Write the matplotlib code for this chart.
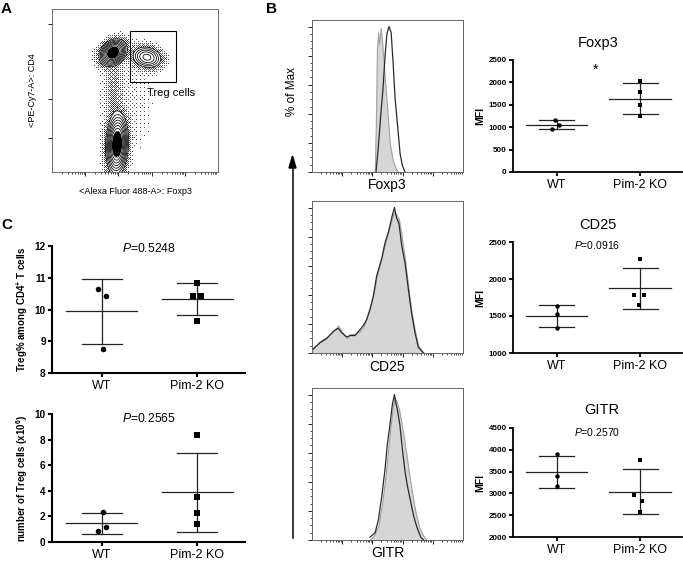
import numpy as np
import matplotlib.pyplot as plt

plt.rcParams['font.family'] = ['Liberation Sans', 'DejaVu Sans']
plt.rcParams['mathtext.fontset'] = 'custom'
plt.rcParams['mathtext.rm'] = 'Liberation Sans'
plt.rcParams['mathtext.it'] = 'Liberation Sans:italic'
plt.rcParams['mathtext.bf'] = 'Liberation Sans:bold'

W, H = 683, 562

# ---- data ----
groups = ['WT', 'Pim-2 KO']

# B: MFI per mouse
foxp3_wt = [1160, 1050, 965]
foxp3_ko = [2030, 1780, 1490, 1245]
cd25_wt = [1635, 1523, 1342]
cd25_ko = [2270, 1784, 1784, 1649]
gitr_wt = [3900, 3409, 3171]
gitr_ko = [3771, 2963, 2831, 2577]

# C: Treg % and numbers (x10^6)
treg_pct_wt = [10.63, 10.42, 8.77]
treg_pct_ko = [10.82, 10.42, 10.42, 9.64]
treg_num_wt = [2.35, 1.17, 0.84]
treg_num_ko = [8.35, 3.48, 2.27, 1.39]

# B: histograms (x in log10 fluorescence, y in % of max)
foxp3_grey_x = [2.08, 2.12, 2.15, 2.19, 2.22, 2.25, 2.28, 2.31, 2.35, 2.42, 2.48, 2.58, 2.68, 2.78, 2.86]
foxp3_grey_y = [0, 40, 85, 96, 88, 94, 99, 92, 82, 62, 47, 19, 8, 2, 0]
foxp3_line_x = [2.12, 2.20, 2.28, 2.35, 2.42, 2.48, 2.55, 2.62, 2.68, 2.75, 2.85, 2.92, 3.00, 3.08]
foxp3_line_y = [0, 18, 40, 57, 80, 95, 100, 96, 77, 51, 28, 12, 4, 0]

cd25_line_x = [0.0, 0.26, 0.49, 0.71, 0.87, 0.98, 1.15, 1.26, 1.42, 1.59, 1.70, 1.81, 1.92, 2.03, 2.14,
               2.31, 2.42, 2.53, 2.64, 2.73, 2.80, 2.88, 2.97, 3.08, 3.19, 3.30, 3.41, 3.52, 3.69]
cd25_line_y = [2, 7, 10, 15, 17, 14, 11, 12, 12, 16, 19, 23, 30, 39, 53,
               65, 76, 83, 93, 100, 93, 89, 74, 62, 44, 27, 14, 4, 0]
cd25_grey_x = [0.0, 0.26, 0.49, 0.71, 0.87, 0.98, 1.15, 1.26, 1.42, 1.59, 1.70, 1.81, 1.92, 2.03, 2.14,
               2.31, 2.42, 2.53, 2.64, 2.72, 2.80, 2.88, 2.97, 3.08, 3.19, 3.30, 3.41, 3.52, 3.70]
cd25_grey_y = [2, 8, 11, 15, 19, 15, 10, 13, 13, 15, 18, 24, 31, 40, 52,
               66, 75, 84, 92, 97, 95, 92, 80, 64, 45, 28, 15, 5, 0]

gitr_line_x = [1.92, 2.09, 2.20, 2.31, 2.42, 2.49, 2.58, 2.66, 2.73, 2.78, 2.84, 2.91, 2.99,
               3.08, 3.16, 3.25, 3.36, 3.47, 3.60, 3.69]
gitr_line_y = [2, 5, 14, 30, 49, 65, 79, 93, 100, 94, 88, 79, 63, 47, 37, 28, 17, 9, 2, 0]
gitr_grey_x = [1.90, 2.05, 2.20, 2.32, 2.44, 2.52, 2.60, 2.68, 2.74, 2.80, 2.88, 2.95, 3.03,
               3.12, 3.22, 3.32, 3.42, 3.55, 3.68, 3.80]
gitr_grey_y = [0, 3, 10, 25, 45, 62, 78, 92, 98, 95, 90, 82, 72, 60, 45, 32, 20, 9, 3, 0]

# A: populations in the CD4 / Foxp3 plot (log10 units): conv CD4, Treg, CD4-, bridge, background
pop_cx = [1.84, 2.86, 1.96, 1.86, 2.2]
pop_cy = [3.66, 3.52, 0.85, 2.3, 2.2]
pop_sx = [0.16, 0.20, 0.13, 0.13, 0.7]
pop_sy = [0.16, 0.15, 0.37, 0.6, 1.3]
pop_rho = [0.25, -0.15, 0.1, 0.0, 0.0]
pop_amp = [1.0, 0.25, 1.0, 0.014, 0.0011]


def box(l, t, r, b):
    return [l / W, 1 - b / H, (r - l) / W, (b - t) / H]


def ftext(x, y, s, **kw):
    fig.text(x / W, 1 - y / H, s, **kw)


def log_ticks(axis_obj, lo, hi):
    minors = [d + np.log10(k) for d in range(lo, hi) for k in range(2, 10)]
    axis_obj.set_ticks(minors, minor=True)


def bayer(n):
    if n == 1:
        return np.array([[0]])
    b = bayer(n // 2)
    return np.block([[4 * b, 4 * b + 2], [4 * b + 3, 4 * b + 1]])


def mixture(X, Y):
    d = np.zeros_like(X)
    for cx, cy, sx, sy, rho, amp in zip(pop_cx, pop_cy, pop_sx, pop_sy, pop_rho, pop_amp):
        u = (X - cx) / sx
        v = (Y - cy) / sy
        d += amp * np.exp(-(u * u - 2 * rho * u * v + v * v) / (2 * (1 - rho ** 2)))
    return d


fig = plt.figure(figsize=(6.83, 5.62), dpi=100)

# ---- A: contour plot with outliers ----
ax = fig.add_axes(box(52, 9, 218, 172))
levels = [0.03, 0.055, 0.09, 0.14, 0.21, 0.3, 0.42, 0.56, 0.72]

# outlier events: ordered-dither stipple of the density outside the lowest contour
nx, ny = 166, 163
px = (np.arange(nx) + 0.5) / nx * 5
py = (np.arange(ny) + 0.5) / ny * 5
PX, PY = np.meshgrid(px, py)
pd = mixture(PX, PY)
t = np.clip((np.log10(np.maximum(pd, 1e-9)) + 3.4) / (np.log10(levels[0]) + 3.4), 0, 1)
prob = np.where(pd >= levels[0], 0, 0.6 * t ** 1.2)
thr = (np.tile(bayer(8), (ny // 8 + 1, nx // 8 + 1))[:ny, :nx] + 0.5) / 64
dots = np.zeros((ny, nx, 4))
dots[..., :3] = 0.15
dots[..., 3] = (prob > thr) * 0.85
ax.imshow(dots, extent=[0, 5, 0, 5], origin='lower', aspect='auto', interpolation='nearest')

g = np.linspace(0, 5, 400)
X, Y = np.meshgrid(g, g)
dens = mixture(X, Y)
ax.contour(X, Y, dens, levels=levels, colors='black', linewidths=0.55)
ax.contourf(X, Y, dens, levels=[0.62, 10], colors='black')
ax.add_patch(plt.Rectangle((2.35, 2.77), 1.38, 1.56, fill=False, ec='black', lw=0.8))
ax.text(2.86, 2.41, 'Treg cells', fontsize=8, va='center')
ax.set_xlim(0, 5)
ax.set_ylim(0, 5)
ax.set_xticks([1, 2, 3, 4])
ax.set_yticks([1.05, 2.25, 3.45, 4.55])
log_ticks(ax.xaxis, 0, 5)
ax.set_xticklabels([])
ax.set_yticklabels([])
ax.tick_params(direction='out', length=3, width=0.6)
ax.tick_params(which='minor', direction='out', length=1.5, width=0.5)
for s in ax.spines.values():
    s.set_linewidth(0.6)
    s.set_color('#555555')
ax.set_xlabel('<Alexa Fluor 488-A>: Foxp3', fontsize=6.5, labelpad=4)
ax.set_ylabel('<PE-Cy7-A>: CD4', fontsize=6.5, labelpad=4)

# ---- B: histograms ----
hists = [
    ((312, 20, 463, 172), 'Foxp3', 185, foxp3_grey_x, foxp3_grey_y, foxp3_line_x, foxp3_line_y),
    ((312, 201, 463, 353), 'CD25', 367, cd25_grey_x, cd25_grey_y, cd25_line_x, cd25_line_y),
    ((312, 388, 463, 540), 'GITR', 553, gitr_grey_x, gitr_grey_y, gitr_line_x, gitr_line_y),
]
for rect, label, ly, gx, gy, lx, ly_ in hists:
    ax = fig.add_axes(box(*rect))
    ax.fill_between(gx, gy, color='#d6d6d6', edgecolor='#a0a0a0', lw=0.8)
    ax.plot(lx, ly_, color='#2a2a2a', lw=0.9)
    ax.set_xlim(0, 5)
    ax.set_ylim(0, 104.5)
    ax.set_xticks([1, 2, 3, 4])
    log_ticks(ax.xaxis, 0, 5)
    ax.set_yticks([0, 20, 40, 60, 80, 100])
    ax.set_yticks(np.arange(0, 101, 5), minor=True)
    ax.set_xticklabels([])
    ax.set_yticklabels([])
    ax.tick_params(direction='out', length=3, width=0.6)
    ax.tick_params(which='minor', direction='out', length=1.5, width=0.5)
    for s in ax.spines.values():
        s.set_linewidth(0.7)
        s.set_color('#666666')
    ftext((rect[0] + rect[2]) / 2, ly, label, fontsize=10, ha='center', va='center')

ftext(292, 92, '% of Max', fontsize=8.5, rotation=90, ha='center', va='center')
fig.add_artist(plt.Line2D([292.5 / W, 292.5 / W], [1 - 538 / H, 1 - 166 / H], color='black', lw=1.1))
fig.add_artist(plt.Polygon([[289 / W, 1 - 168 / H], [296 / W, 1 - 168 / H], [292.5 / W, 1 - 156 / H]],
                           closed=True, color='black'))


# ---- B and C: dot plots ----
def dotplot(rect, wt, ko, wt_dx, ko_dx, ylim, yticks, ms, tick_fs, spine_w):
    ax = fig.add_axes(box(*rect))
    for i, (vals, dx, mk) in enumerate([(wt, wt_dx, 'o'), (ko, ko_dx, 's')]):
        m = np.mean(vals)
        sd = np.std(vals, ddof=1)
        ax.plot([i - 0.37, i + 0.37], [m, m], color='#222222', lw=0.9, zorder=2)
        ax.plot([i - 0.21, i + 0.21], [m + sd, m + sd], color='#222222', lw=0.9, zorder=2)
        ax.plot([i - 0.21, i + 0.21], [m - sd, m - sd], color='#222222', lw=0.9, zorder=2)
        ax.plot([i, i], [m - sd, m + sd], color='#222222', lw=0.9, zorder=2)
        ax.plot(np.array(dx) + i, vals, mk, color='black', ms=ms, mew=0, zorder=3)
    ax.set_xlim(-0.52, 1.5)
    ax.set_ylim(*ylim)
    ax.set_yticks(yticks)
    ax.set_xticks([0, 1])
    ax.set_xticklabels(groups, fontsize=9)
    for lab in ax.get_yticklabels():
        lab.set_fontsize(tick_fs)
        lab.set_fontweight('bold')
    for side in ['top', 'right']:
        ax.spines[side].set_visible(False)
    for side in ['left', 'bottom']:
        ax.spines[side].set_linewidth(spine_w)
    ax.tick_params(direction='out', length=3, width=spine_w, pad=1.5)
    ax.tick_params(axis='x', pad=2)
    return ax


ax = dotplot((513, 60, 682, 172), foxp3_wt, foxp3_ko, [-0.02, 0.03, -0.05], [0, 0, 0, 0],
             (0, 2500), [0, 500, 1000, 1500, 2000, 2500], 3.2, 5.8, 1.3)
ax.set_ylabel('MFI', fontsize=7.5, fontweight='bold', labelpad=2)
ftext(598, 43, 'Foxp3', fontsize=10.5, ha='center', va='center')
ftext(596, 70, '*', fontsize=10, ha='center', va='center')

ax = dotplot((513, 242, 682, 353), cd25_wt, cd25_ko, [0, 0, 0], [0, -0.07, 0.04, -0.01],
             (1000, 2500), [1000, 1500, 2000, 2500], 3.2, 5.8, 1.3)
ax.set_ylabel('MFI', fontsize=7.5, fontweight='bold', labelpad=2)
ftext(598, 225, 'CD25', fontsize=10.5, ha='center', va='center')
ftext(597, 245, '$P$=0.0916', fontsize=7.5, ha='center', va='center')

ax = dotplot((513, 428, 682, 537), gitr_wt, gitr_ko, [0, 0, 0], [0, -0.07, 0.02, 0],
             (2000, 4500), [2000, 2500, 3000, 3500, 4000, 4500], 3.2, 5.8, 1.3)
ax.set_ylabel('MFI', fontsize=7.5, fontweight='bold', labelpad=2)
ftext(602, 410, 'GITR', fontsize=10.5, ha='center', va='center')
ftext(597, 432, '$P$=0.2570', fontsize=7.5, ha='center', va='center')

ax = dotplot((52, 246, 245, 373), treg_pct_wt, treg_pct_ko, [-0.035, 0.05, 0.01], [0, -0.04, 0.04, 0],
             (8, 12), [8, 9, 10, 11, 12], 4.0, 7.2, 1.5)
ax.set_ylabel(r'Treg% among CD4$^{\mathbf{+}}$ T cells', fontsize=7, fontweight='bold', labelpad=3)
ftext(149, 249, '$P$=0.5248', fontsize=8.7, ha='center', va='center')

ax = dotplot((52, 414, 245, 542), treg_num_wt, treg_num_ko, [0.01, 0.05, -0.035], [0, 0, 0, 0],
             (0, 10), [0, 2, 4, 6, 8, 10], 4.0, 7.2, 1.5)
ax.set_ylabel(r'number of Treg cells (x10$^{\mathbf{6}}$)', fontsize=7, fontweight='bold', labelpad=3)
ftext(149, 418, '$P$=0.2565', fontsize=8.7, ha='center', va='center')

# panel letters
ftext(1, 9, 'A', fontsize=11, fontweight='bold', va='center')
ftext(266, 9, 'B', fontsize=11, fontweight='bold', va='center')
ftext(1, 225, 'C', fontsize=11, fontweight='bold', va='center')

fig.savefig('out.png', dpi=100)
